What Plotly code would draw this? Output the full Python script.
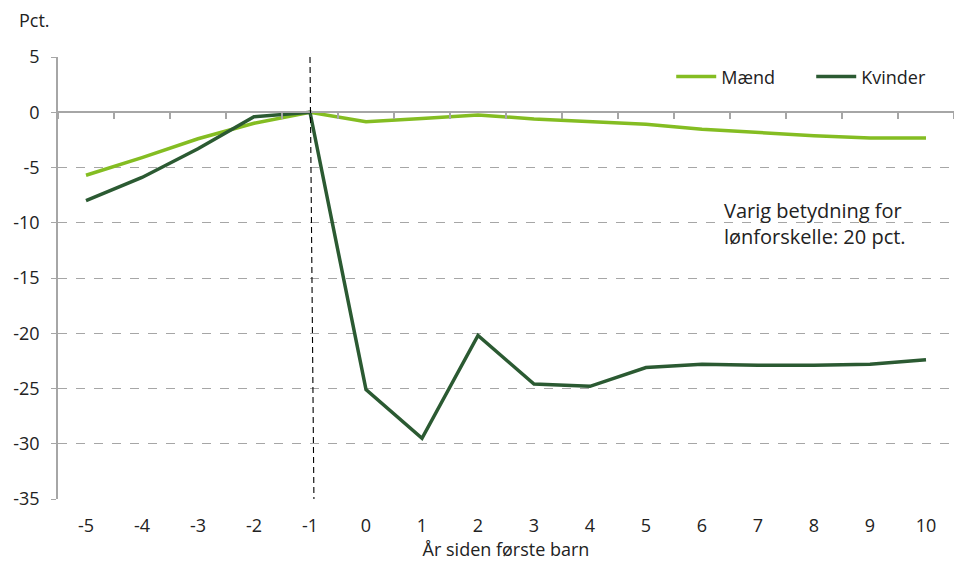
import plotly.graph_objects as go

# Years relative to the birth of the first child
years = ["-5", "-4", "-3", "-2", "-1", "0", "1", "2", "3", "4", "5", "6", "7", "8", "9", "10"]

# Earnings effect in percent, men and women
maend = [-5.7, -4.1, -2.4, -1.0, 0.0, -0.85, -0.57, -0.24, -0.6, -0.87, -1.08,
         -1.53, -1.83, -2.13, -2.34, -2.34]
kvinder = [-8.0, -5.9, -3.3, -0.4, 0.0, -25.1, -29.5, -20.2, -24.6, -24.8, -23.1,
           -22.8, -22.9, -22.9, -22.8, -22.4]

y_ticks = [5, 0, -5, -10, -15, -20, -25, -30, -35]
y_labels = ["5", "0", "-5", "-10", "-15", "-20", "-25", "-30", "-35"]

FONT = "Open Sans"
GRID = "#a6a6a6"
LIGHT = "#84bd22"
DARK = "#2b5a32"

fig = go.Figure()

fig.add_trace(go.Scatter(x=years, y=maend, mode="lines", name="Mænd",
                         line=dict(color=LIGHT, width=3.5)))
fig.add_trace(go.Scatter(x=years, y=kvinder, mode="lines", name="Kvinder",
                         line=dict(color=DARK, width=3.5)))
# Carrier trace for the zero-line axis with category boundary ticks
fig.add_trace(go.Scatter(x=years, y=maend, mode="lines", xaxis="x2",
                         line=dict(width=0), opacity=0, showlegend=False,
                         hoverinfo="skip"))

fig.update_layout(
    width=954, height=562,
    margin=dict(l=58, r=0, t=57, b=63),
    paper_bgcolor="white", plot_bgcolor="white",
    font=dict(family=FONT, size=18, color="#222222"),
    showlegend=True,
    legend=dict(orientation="h", x=0.6844, xanchor="left", y=0.955, yanchor="middle",
                font=dict(size=18), bgcolor="rgba(0,0,0,0)", traceorder="normal",
                entrywidth=85, itemwidth=40),
    xaxis=dict(type="category", range=[-0.5, 15.5], showgrid=False, showline=False,
               ticks="", zeroline=False, tickfont=dict(size=18), ticklabelstandoff=14,
               title=dict(text="År siden første barn", font=dict(size=18), standoff=4)),
    xaxis2=dict(type="category", matches="x", overlaying="x", anchor="free",
                position=35 / 40, side="bottom", showline=True, linecolor=GRID,
                linewidth=1.5, ticks="outside", ticklen=6, tickcolor=GRID,
                tickwidth=1.5, tickson="boundaries", showticklabels=False,
                showgrid=False, zeroline=False),
    yaxis=dict(range=[-35, 5], tickvals=y_ticks, ticktext=y_labels, showline=True,
               linecolor=GRID, linewidth=1.5, ticks="outside", ticklen=5,
               tickcolor=GRID, showgrid=True, gridcolor=GRID, griddash="dash",
               gridwidth=1, zeroline=False, tickfont=dict(size=18),
               ticklabelstandoff=8),
)

# Dashed marker at the year before the first child
fig.add_shape(type="line", xref="x", yref="y", x0=4, x1=4.07, y0=5, y1=-35,
              line=dict(color="black", width=1.1, dash="6px,4px"))

fig.add_annotation(text="Pct.", xref="paper", yref="paper", x=-0.046, y=1.083,
                   xanchor="left", yanchor="middle", showarrow=False,
                   font=dict(size=18))
fig.add_annotation(text="Varig betydning for<br>lønforskelle: 20 pct.",
                   xref="paper", yref="y", x=0.741, y=-10.1, xanchor="left",
                   yanchor="middle", align="left", showarrow=False,
                   font=dict(size=20))

fig.write_html("out.html")
